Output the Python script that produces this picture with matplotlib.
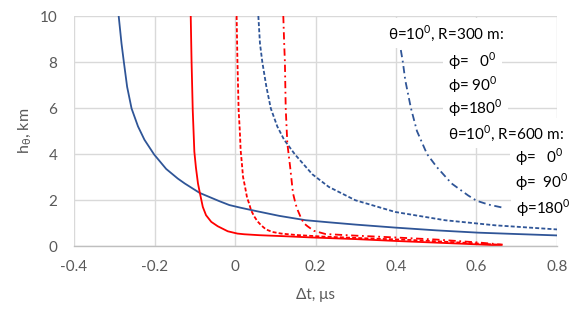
import matplotlib
matplotlib.use("Agg")
import matplotlib.pyplot as plt

plt.rcParams['font.family'] = ['Lato', 'DejaVu Sans']

# R = 300 m (red), phi = 0, 90, 180
red_solid_x = [-0.110, -0.108, -0.105, -0.101, -0.097, -0.092, -0.087, -0.080, -0.072, -0.059, -0.043, -0.018, 0.006, 0.023, 0.060, 0.130, 0.192, 0.300, 0.398, 0.480, 0.563, 0.662]
red_solid_y = [10.0, 8.08, 5.91, 4.10, 3.40, 2.72, 2.28, 1.70, 1.34, 1.05, 0.86, 0.64, 0.54, 0.51, 0.47, 0.42, 0.37, 0.30, 0.22, 0.16, 0.10, 0.02]

red_dash_x = [0.004, 0.006, 0.009, 0.012, 0.014, 0.017, 0.020, 0.025, 0.030, 0.035, 0.040, 0.048, 0.056, 0.065, 0.077, 0.093, 0.115, 0.151, 0.217, 0.316, 0.440, 0.560, 0.662]
red_dash_y = [10.0, 8.08, 5.91, 5.0, 4.17, 3.6, 3.0, 2.57, 2.10, 1.85, 1.55, 1.28, 1.07, 0.90, 0.72, 0.61, 0.54, 0.48, 0.41, 0.34, 0.26, 0.15, 0.05]

red_dashdot_x = [0.120, 0.122, 0.124, 0.126, 0.130, 0.137, 0.144, 0.151, 0.156, 0.163, 0.171, 0.180, 0.196, 0.225, 0.300, 0.400, 0.500, 0.600, 0.665]
red_dashdot_y = [10.0, 8.9, 7.98, 5.98, 4.46, 3.44, 2.30, 1.80, 1.55, 1.26, 0.99, 0.86, 0.66, 0.52, 0.45, 0.37, 0.28, 0.16, 0.06]

# R = 600 m (blue), phi = 0, 90, 180
blue_solid_x = [-0.289, -0.282, -0.276, -0.268, -0.257, -0.241, -0.225, -0.201, -0.171, -0.142, -0.125, -0.088, -0.039, -0.014, 0.015, 0.044, 0.110, 0.176, 0.233, 0.300, 0.398, 0.500, 0.604, 0.700, 0.800]
blue_solid_y = [10.0, 8.81, 7.98, 6.92, 5.98, 5.20, 4.62, 3.98, 3.35, 2.93, 2.72, 2.31, 1.95, 1.78, 1.66, 1.55, 1.31, 1.12, 1.03, 0.93, 0.80, 0.68, 0.58, 0.52, 0.46]

blue_dash_x = [0.058, 0.062, 0.068, 0.078, 0.089, 0.105, 0.122, 0.149, 0.192, 0.233, 0.299, 0.398, 0.522, 0.646, 0.800]
blue_dash_y = [10.0, 8.81, 7.98, 6.92, 5.98, 5.20, 4.62, 3.98, 3.12, 2.57, 1.99, 1.48, 1.12, 0.90, 0.72]

blue_dashdot_x = [0.412, 0.417, 0.423, 0.437, 0.452, 0.477, 0.501, 0.538, 0.579, 0.600, 0.630, 0.670]
blue_dashdot_y = [8.52, 8.0, 7.21, 6.0, 5.0, 4.0, 3.44, 2.72, 2.20, 1.97, 1.80, 1.65]

legend_labels = ["\u03b8=10$^\\mathregular{0}$, R=300 m:",
                 "\u03d5=   0$^\\mathregular{0}$", "\u03d5= 90$^\\mathregular{0}$", "\u03d5=180$^\\mathregular{0}$",
                 "\u03b8=10$^\\mathregular{0}$, R=600 m:",
                 "\u03d5=   0$^\\mathregular{0}$", "\u03d5=  90$^\\mathregular{0}$", "\u03d5=180$^\\mathregular{0}$"]

x_ticks = [-0.4, -0.2, 0, 0.2, 0.4, 0.6, 0.8]
x_ticklabels = ["-0.4", "-0.2", "0", "0.2", "0.4", "0.6", "0.8"]
y_ticks = [0, 2, 4, 6, 8, 10]

RED = '#FF0000'
BLUE = '#2F5597'
GRID = '#D9D9D9'
TXT = '#595959'

fig = plt.figure(figsize=(5.82, 3.19), dpi=100)
ax = fig.add_axes([74/582, 1 - 246/319, (557-74)/582, (246-16)/319])

lw = 1.3
ax.plot(blue_solid_x, blue_solid_y, color=BLUE, lw=lw, ls='-')
ax.plot(blue_dash_x, blue_dash_y, color=BLUE, lw=lw, ls=(0, (2.2, 1.2)))
ax.plot(blue_dashdot_x, blue_dashdot_y, color=BLUE, lw=lw, ls=(0, (4, 2, 1, 2)))
ax.plot(red_solid_x, red_solid_y, color=RED, lw=lw, ls='-')
ax.plot(red_dash_x, red_dash_y, color=RED, lw=lw, ls=(0, (2.2, 1.2)))
ax.plot(red_dashdot_x, red_dashdot_y, color=RED, lw=lw, ls=(0, (4, 2, 1, 2)))

ax.set_xlim(-0.4, 0.8)
ax.set_ylim(0, 10)
ax.set_xticks(x_ticks)
ax.set_xticklabels(x_ticklabels)
ax.set_yticks(y_ticks)
ax.grid(True, color=GRID, lw=1)
ax.set_axisbelow(True)
for s in ['top', 'right', 'left']:
    ax.spines[s].set_visible(False)
ax.spines['bottom'].set_color('#BFBFBF')
ax.spines['bottom'].set_linewidth(1)
ax.tick_params(length=0, labelsize=11, labelcolor=TXT, pad=10)
ax.tick_params(axis='y', pad=12)

ax.set_xlabel("\u0394t, \u03bcs", fontsize=11, color=TXT, labelpad=10)
ax.set_ylabel("h$_\\mathregular{\u03b8}$, km", fontsize=11.5, color=TXT, labelpad=4)

# legend text entries (pixel positions: left x, center y)
leg_pos = [(388, 33), (448, 61), (448, 85), (448, 108),
           (448, 133), (515, 157), (515, 182), (516, 208)]
for (px, py), lab in zip(leg_pos, legend_labels):
    fig.text(px/582, 1 - py/319, lab, ha='left', va='center', fontsize=11, color='black',
             bbox=dict(boxstyle='square,pad=0.35', fc='white', ec='none'), zorder=10)

fig.savefig('out.png', dpi=100)
